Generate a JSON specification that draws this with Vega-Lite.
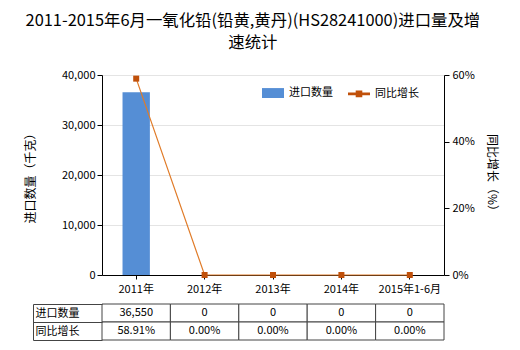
{
  "$schema": "https://vega.github.io/schema/vega-lite/v6.json",
  "padding": {"left": 24, "top": 12, "right": 5, "bottom": 5},
  "background": "white",
  "title": {
    "text": ["2011-2015年6月一氧化铅(铅黄,黄丹)(HS28241000)进口量及增", "速统计"],
    "fontSize": 16.4,
    "fontWeight": "normal",
    "font": "Noto Sans CJK SC",
    "color": "#000000",
    "anchor": "middle",
    "lineHeight": 22,
    "offset": 18,
    "dx": -8
  },
  "config": {
    "font": "Noto Sans CJK SC",
    "view": {"stroke": null},
    "axis": {"labelColor": "#000000", "titleColor": "#000000", "labelFont": "Noto Sans CJK SC", "titleFont": "Noto Sans CJK SC", "titleFontWeight": "normal"}
  },
  "bounds": "flush",
  "spacing": 29,
  "datasets": {
    "main": [
      {"year": "2011年", "qty": 36550, "growth": 58.91},
      {"year": "2012年", "qty": 0, "growth": 0},
      {"year": "2013年", "qty": 0, "growth": 0},
      {"year": "2014年", "qty": 0, "growth": 0},
      {"year": "2015年1-6月", "qty": 0, "growth": 0}
    ],
    "table": [
      {"year": "2011年", "row": "进口数量", "text": "36,550"},
      {"year": "2012年", "row": "进口数量", "text": "0"},
      {"year": "2013年", "row": "进口数量", "text": "0"},
      {"year": "2014年", "row": "进口数量", "text": "0"},
      {"year": "2015年1-6月", "row": "进口数量", "text": "0"},
      {"year": "2011年", "row": "同比增长", "text": "58.91%"},
      {"year": "2012年", "row": "同比增长", "text": "0.00%"},
      {"year": "2013年", "row": "同比增长", "text": "0.00%"},
      {"year": "2014年", "row": "同比增长", "text": "0.00%"},
      {"year": "2015年1-6月", "row": "同比增长", "text": "0.00%"}
    ]
  },
  "vconcat": [
    {
      "width": 342,
      "height": 200,
      "data": {"name": "main"},
      "encoding": {
        "x": {
          "field": "year",
          "type": "nominal",
          "sort": null,
          "scale": {"paddingInner": 0, "paddingOuter": 0},
          "axis": {
            "title": null,
            "labelAngle": 0,
            "labelFontSize": 11,
            "domainColor": "#000000",
            "tickColor": "#000000",
            "tickSize": 4,
            "labelPadding": 4
          }
        }
      },
      "layer": [
        {
          "mark": {"type": "bar", "width": {"band": 0.4}},
          "encoding": {
            "y": {
              "field": "qty",
              "type": "quantitative",
              "scale": {"domain": [0, 40000]},
              "axis": {
                "title": "进口数量（千克）",
                "titleFontSize": 12,
                "titlePadding": 24,
                "values": [0, 10000, 20000, 30000, 40000],
                "labelExpr": "format(datum.value, ',.0f')",
                "labelFontSize": 11,
                "labelPadding": 2,
                "tickSize": 5,
                "domainColor": "#000000",
                "tickColor": "#000000",
                "gridColor": "#e4e4e4"
              }
            },
            "color": {
              "datum": "进口数量",
              "type": "nominal",
              "scale": {"domain": ["进口数量", "同比增长"], "range": ["#558ED5", "#C0500A"]},
              "legend": {
                "title": null,
                "orient": "none",
                "direction": "horizontal",
                "legendX": 159,
                "legendY": 6,
                "padding": 0,
                "symbolSize": 484,
                "labelFontSize": 11,
                "labelColor": "#000000",
                "labelOffset": 4,
                "columnPadding": 12,
                "encode": {
                  "symbols": {
                    "update": {
                      "shape": {"signal": "datum.value === '进口数量' ? 'M-1,-0.45H1V0.45H-1Z' : 'M-1,-0.13H1V0.13H-1Z M-0.3,-0.3H0.3V0.3H-0.3Z'"},
                      "fill": {"signal": "datum.value === '进口数量' ? '#558ED5' : '#C0500A'"},
                      "stroke": {"value": "transparent"},
                      "opacity": {"value": 1}
                    }
                  }
                }
              }
            }
          }
        },
        {
          "mark": {"type": "line", "stroke": "#E07B28", "strokeWidth": 1.2},
          "encoding": {
            "y": {
              "field": "growth",
              "type": "quantitative",
              "scale": {"domain": [0, 60]},
              "axis": {
                "orient": "right",
                "title": "同比增长（%）",
                "titleFontSize": 12,
                "titlePadding": 10,
                "values": [0, 20, 40, 60],
                "labelExpr": "datum.value + '%'",
                "labelFontSize": 11,
                "labelPadding": 3,
                "tickSize": 5,
                "grid": false,
                "domainColor": "#000000",
                "tickColor": "#000000"
              }
            }
          }
        },
        {
          "mark": {"type": "point", "shape": "square", "filled": true, "size": 36, "opacity": 1},
          "encoding": {
            "y": {"field": "growth", "type": "quantitative", "scale": {"domain": [0, 60]}, "axis": null},
            "color": {"datum": "同比增长", "type": "nominal"}
          }
        }
      ],
      "resolve": {"scale": {"y": "independent"}}
    },
    {
      "width": 342,
      "height": 36,
      "data": {"name": "table"},
      "encoding": {
        "x": {
          "field": "year",
          "type": "nominal",
          "sort": ["2011年", "2012年", "2013年", "2014年", "2015年1-6月"],
          "scale": {"paddingInner": 0, "paddingOuter": 0},
          "axis": null
        },
        "y": {
          "field": "row",
          "type": "nominal",
          "sort": ["进口数量", "同比增长"],
          "scale": {"paddingInner": 0, "paddingOuter": 0},
          "axis": {
            "title": null,
            "orient": "left",
            "offset": 69,
            "tickBand": "extent",
            "tickSize": -69,
            "labelAlign": "left",
            "labelPadding": 67,
            "labelFontSize": 11,
            "domainColor": "#444444",
            "tickColor": "#444444"
          }
        }
      },
      "layer": [
        {"mark": {"type": "rect", "fill": "white", "stroke": "#444444", "strokeWidth": 1}},
        {
          "mark": {"type": "text", "fontSize": 11, "color": "#000000"},
          "encoding": {"text": {"field": "text"}}
        }
      ]
    }
  ]
}
